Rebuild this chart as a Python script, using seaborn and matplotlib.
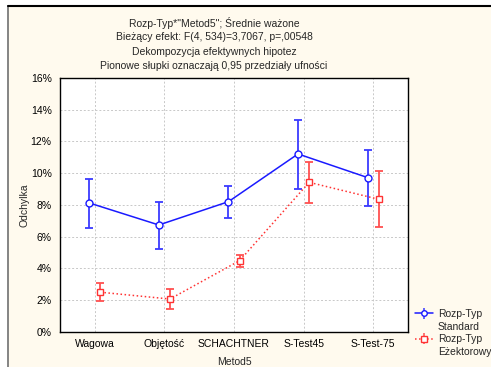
import numpy as np
import pandas as pd
import matplotlib
matplotlib.use("Agg")
import matplotlib.pyplot as plt
from matplotlib.patches import Rectangle
from matplotlib.lines import Line2D
import seaborn as sns

categories = ["Wagowa", "Objętość", "SCHACHTNER", "S-Test45", "S-Test-75"]
std_mean = [8.12, 6.73, 8.20, 11.21, 9.72]
std_low = [6.54, 5.24, 7.15, 8.98, 7.91]
std_high = [9.65, 8.18, 9.19, 13.38, 11.46]
eje_mean = [2.49, 2.06, 4.48, 9.42, 8.35]
eje_low = [1.94, 1.45, 4.08, 8.10, 6.59]
eje_high = [3.07, 2.69, 4.86, 10.73, 10.12]
series = ["Rozp-Typ\nStandard", "Rozp-Typ\nEżektorowy"]
yticks = [0, 2, 4, 6, 8, 10, 12, 14, 16]

sns.set_theme(style="white")
plt.rcParams['font.family'] = ['Liberation Sans', 'DejaVu Sans']
FS = 7.5

fig = plt.figure(figsize=(4.91, 3.67), dpi=100)
fig.patch.set_facecolor("white")
fig.patches.append(Rectangle((8/491, 0), 1, 1 - 6/367, transform=fig.transFigure,
                             facecolor="#FFFAEE", edgecolor="none", zorder=-10))
fig.add_artist(Line2D([7.5/491, 7.5/491], [0, 1 - 5.5/367], transform=fig.transFigure,
                      color="#707070", lw=1.2))
fig.add_artist(Line2D([7.5/491, 1], [1 - 5.5/367, 1 - 5.5/367], transform=fig.transFigure,
                      color="black", lw=1.5))

ax = fig.add_axes([60/491, 1 - 331.7/367, (408 - 60)/491, (331.7 - 78)/367])
ax.set_facecolor("white")

off = 0.08
xs = np.arange(len(categories))
df = pd.DataFrame({
    "x": np.concatenate([xs - off, xs + off]),
    "y": std_mean + eje_mean,
    "lo": std_low + eje_low,
    "hi": std_high + eje_high,
    "series": [series[0]] * 5 + [series[1]] * 5,
})

colors = {series[0]: "#1a1aff", series[1]: "#ff3333"}
ecolors = {series[0]: "#3a3aff", series[1]: "#ff5050"}
styles = {series[0]: "-", series[1]: ":"}
markers = {series[0]: "o", series[1]: "s"}

for s in series:
    d = df[df["series"] == s]
    ax.errorbar(d["x"], d["y"], yerr=[d["y"] - d["lo"], d["hi"] - d["y"]],
                fmt="none", ecolor=ecolors[s], elinewidth=1.3, capsize=3, capthick=1.3, zorder=2)
    sns.lineplot(data=d, x="x", y="y", ax=ax, color=colors[s], linestyle=styles[s],
                 lw=1.1, marker=markers[s], markersize=5, markerfacecolor="white",
                 markeredgecolor=colors[s], markeredgewidth=1.0, zorder=3, legend=False)

ax.set_xlim(-0.5, 4.5)
ax.set_ylim(0, 16)
ax.set_xticks(xs)
ax.set_xticklabels(categories)
ax.set_yticks(yticks)
ax.set_yticklabels([f"{t}%" for t in yticks])
ax.grid(True, color="#c8c8c8", linestyle=(0, (2, 2)), lw=0.7)
ax.set_axisbelow(True)
for sp in ax.spines.values():
    sp.set_color("black")
    sp.set_linewidth(1.0)
ax.tick_params(axis="both", labelsize=FS, colors="black", length=0, pad=6)
ax.tick_params(axis="x", pad=5)
ax.set_xlabel("Metod5", fontsize=FS, labelpad=6)
ax.set_ylabel("Odchylka", fontsize=FS, labelpad=1)

titles = ["Rozp-Typ*\"Metod5\"; Średnie ważone",
          "Bieżący efekt: F(4, 534)=3,7067, p=,00548",
          "Dekompozycja efektywnych hipotez",
          "Pionowe słupki oznaczają 0,95 przedziały ufności"]
for i, t in enumerate(titles):
    fig.text(214/491, 1 - (23 + i * 14.3)/367, t, ha="center", va="center", fontsize=FS)

handles = []
labels = []
for s in series:
    h = ax.errorbar([], [], yerr=[], color=colors[s], ecolor=ecolors[s], linestyle=styles[s],
                    marker=markers[s], markersize=4, markerfacecolor="white",
                    markeredgecolor=colors[s], capsize=3, lw=1.1)
    first, second = s.split("\n")
    handles += [h, Line2D([], [], color="none")]
    labels += [first, second]
leg = fig.legend(handles, labels, loc="upper left", bbox_to_anchor=(415/491, 1 - 309/367),
                 fontsize=FS, frameon=False, handlelength=1.7, labelspacing=0.25,
                 handletextpad=0.5, borderaxespad=0, borderpad=0)

fig.savefig("out.png", dpi=100)
